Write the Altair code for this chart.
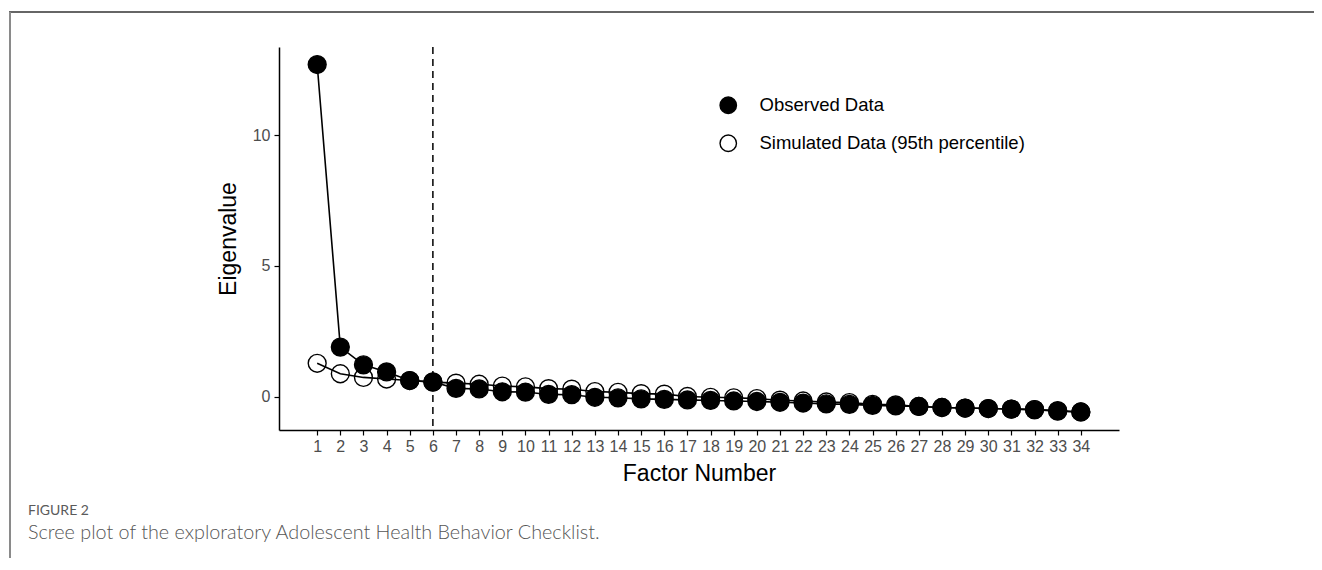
import altair as alt
import pandas as pd

factors = list(range(1, 35))
observed = [12.7, 1.9, 1.22, 0.95, 0.62, 0.57, 0.32, 0.30, 0.19, 0.18, 0.09, 0.08,
            -0.02, -0.04, -0.08, -0.10, -0.12, -0.14, -0.16, -0.18, -0.21, -0.24,
            -0.27, -0.29, -0.33, -0.35, -0.37, -0.41, -0.43, -0.45, -0.47, -0.49,
            -0.53, -0.58]
simulated = [1.28, 0.88, 0.74, 0.68, 0.62, 0.56, 0.52, 0.48, 0.41, 0.38, 0.31, 0.29,
             0.20, 0.17, 0.12, 0.10, 0.01, -0.02, -0.04, -0.07, -0.13, -0.16,
             -0.20, -0.22, -0.29, -0.31, -0.37, -0.41, -0.43, -0.45, -0.47, -0.49,
             -0.55, -0.58]
series_names = ["Observed Data", "Simulated Data (95th percentile)"]
cutoff = [6]
y_ticks = [0, 5, 10]
caption_label = "FIGURE 2"
caption_text = "Scree plot of the exploratory Adolescent Health Behavior Checklist."

FONT = "Liberation Sans"

df = pd.DataFrame({
    "factor": factors * 2,
    "value": observed + simulated,
    "series": [series_names[0]] * len(factors) + [series_names[1]] * len(factors),
})

x_enc = alt.X("factor:Q", scale=alt.Scale(domain=[-0.65, 35.65], nice=False, zero=False),
              axis=alt.Axis(values=factors, title="Factor Number", labelOverlap=False,
                            titlePadding=8, labelPadding=3))
y_enc = alt.Y("value:Q", scale=alt.Scale(domain=[-1.27, 13.37], nice=False, zero=False),
              axis=alt.Axis(values=y_ticks, title="Eigenvalue", titlePadding=12,
                            labelPadding=4))

legend = alt.Legend(title=None, orient="none", legendX=440, legendY=49, padding=0,
                    symbolType="circle", symbolSize=270, symbolStrokeWidth=1.4,
                    labelFontSize=18.5, labelFont=FONT, labelColor="black", labelLimit=0,
                    rowPadding=15, labelOffset=22)
fill_enc = alt.Fill("series:N", scale=alt.Scale(domain=series_names, range=["black", "transparent"]),
                    legend=legend)
stroke_enc = alt.Stroke("series:N", scale=alt.Scale(domain=series_names, range=["black", "black"]),
                        legend=legend)

base = alt.Chart(df)

sim_pts = base.transform_filter(alt.datum.series == series_names[1]).mark_point(
    filled=False, size=320, strokeWidth=1.4, opacity=1).encode(
    x=x_enc, y=y_enc, fill=fill_enc, stroke=stroke_enc)
obs_pts = base.transform_filter(alt.datum.series == series_names[0]).mark_point(
    size=320, strokeWidth=1.4, opacity=1).encode(
    x=x_enc, y=y_enc, fill=fill_enc, stroke=stroke_enc)
lines = base.mark_line(color="black", strokeWidth=1.6).encode(
    x=x_enc, y=y_enc, detail="series:N")

vline = alt.Chart(pd.DataFrame({"factor": cutoff})).mark_rule(
    color="black", strokeWidth=1.5, strokeDash=[7, 5]).encode(x=x_enc)

one = alt.Data(values=[{"a": 1}])
frame_top = alt.Chart(one).mark_rule(color="#333333", strokeWidth=1.5).encode(
    x=alt.value(-270), x2=alt.value(1045), y=alt.value(-35))
frame_left = alt.Chart(one).mark_rule(color="#8a8a8a", strokeWidth=2).encode(
    x=alt.value(-269), y=alt.value(-35), y2=alt.value(530))
cap1 = alt.Chart(one).mark_text(text=caption_label, align="left", baseline="alphabetic",
                                font="Lato", fontSize=14, color="#5a5a5a").encode(
    x=alt.value(-251), y=alt.value(468))
cap2 = alt.Chart(one).mark_text(text=caption_text, align="left", baseline="alphabetic",
                                font="Lato", fontSize=19.8, fontWeight=300, color="#555555").encode(
    x=alt.value(-251), y=alt.value(492))

chart = alt.layer(sim_pts, obs_pts, lines, vline, frame_top, frame_left, cap1, cap2).properties(
    width=840, height=383,
    autosize=alt.AutoSizeParams(type="none"),
    padding={"left": 271, "top": 39, "right": 195, "bottom": 128},
).configure_view(strokeWidth=0).configure_axis(
    grid=False, labelFontSize=16, labelColor="#4d4d4d", labelFont=FONT,
    titleFont=FONT, titleFontSize=23, titleFontWeight="normal", titleColor="black",
    domainColor="black", domainWidth=1.5, tickColor="black", tickWidth=1.2, tickSize=5,
)

chart.save("out.html", embed_options={"renderer": "svg", "actions": False})
